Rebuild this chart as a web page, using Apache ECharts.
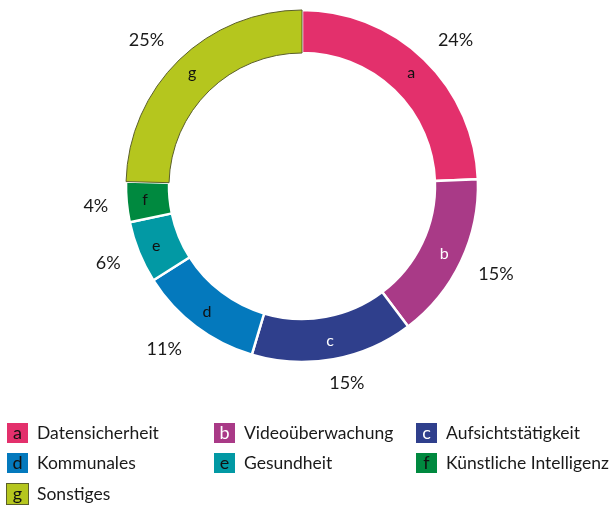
<!DOCTYPE html>
<html>
<head>
<meta charset="utf-8">
<script src="https://cdn.jsdelivr.net/npm/echarts@6/dist/echarts.min.js"></script>
<style>
  html, body { margin: 0; padding: 0; background: #fff; }
  #chart { width: 613px; height: 505px; }
</style>
</head>
<body>
<div id="chart"></div>
<script>
// Themen und Anteile (%), Beschriftung gerundet
var letters = ['a', 'b', 'c', 'd', 'e', 'f', 'g'];
var names = ['Datensicherheit', 'Videoüberwachung', 'Aufsichtstätigkeit', 'Kommunales', 'Gesundheit', 'Künstliche Intelligenz', 'Sonstiges'];
var values = [24.4, 15.3, 14.9, 11.4, 5.7, 3.7, 24.6];
var colors = ['#e3306c', '#a93a87', '#2f3f8c', '#0479bd', '#0299a4', '#00893f', '#b5c61e'];
var letterColors = ['#111', '#fff', '#fff', '#111', '#111', '#111', '#111'];

var chart = echarts.init(document.getElementById('chart'));
var font = 'Lato, "Open Sans", sans-serif';

// kleine Korrekturen der Prozent-Beschriftung (wie im Original)
var pctOffset = [[10, 3], [7, -1], [8, -7], [-13, -2], [-2, -1], [0, 1], [-11, 2]];

var ringData = [];
var pctData = [];
for (var i = 0; i < names.length; i++) {
  ringData.push({
    name: names[i],
    value: values[i],
    itemStyle: {
      color: colors[i],
      borderColor: i == 6 ? '#5b5f2a' : '#fff',
      borderWidth: i == 6 ? 1 : 2.5
    },
    label: { color: letterColors[i] }
  });
  pctData.push({
    name: names[i],
    value: values[i],
    label: { offset: pctOffset[i] }
  });
}

// legende: rich text boxes mit buchstaben
var rich = {
  t: { fontFamily: font, fontSize: 17.5, color: '#1a1a1a', lineHeight: 20, padding: [0, 0, 0, 9] }
};
for (var i = 0; i < letters.length; i++) {
  rich['k' + i] = {
    backgroundColor: colors[i],
    color: letterColors[i],
    fontFamily: font,
    fontSize: 18,
    width: 21,
    height: 20,
    lineHeight: 20,
    align: 'center',
    borderColor: i == 6 ? '#5b5f2a' : colors[i],
    borderWidth: i == 6 ? 1 : 0
  };
}
function legendFmt(name) {
  var i = names.indexOf(name);
  return '{k' + i + '|' + letters[i] + '}{t|' + name + '}';
}
function makeLegend(left, idx) {
  return {
    orient: 'vertical',
    left: left,
    top: 423,
    height: 90,
    padding: 0,
    icon: 'none',
    itemWidth: 0,
    itemHeight: 20,
    itemGap: 10,
    selectedMode: false,
    data: idx.map(function (k) { return names[k]; }),
    formatter: legendFmt,
    textStyle: { rich: rich, padding: 0 }
  };
}

var option = {
  animation: false,
  legend: [
    makeLegend(2, [0, 3, 6]),
    makeLegend(209, [1, 4]),
    makeLegend(411, [2, 5])
  ],
  series: [{
    type: 'pie',
    center: [302, 186],
    radius: [133, 176],
    startAngle: 90,
    clockwise: true,
    silent: true,
    data: ringData,
    label: {
      position: 'inside',
      fontFamily: font,
      fontSize: 16,
      formatter: function (p) { return letters[p.dataIndex]; }
    },
    labelLine: { show: false }
  }, {
    type: 'pie',
    center: [302, 186],
    radius: [180, 228],
    startAngle: 90,
    clockwise: true,
    silent: true,
    data: pctData,
    itemStyle: { color: 'rgba(0,0,0,0)' },
    label: {
      position: 'inside',
      fontFamily: font,
      fontSize: 18,
      color: '#1a1a1a',
      formatter: function (p) { return Math.round(values[p.dataIndex]) + '%'; }
    },
    labelLine: { show: false }
  }]
};
chart.setOption(option);
</script>
</body>
</html>
